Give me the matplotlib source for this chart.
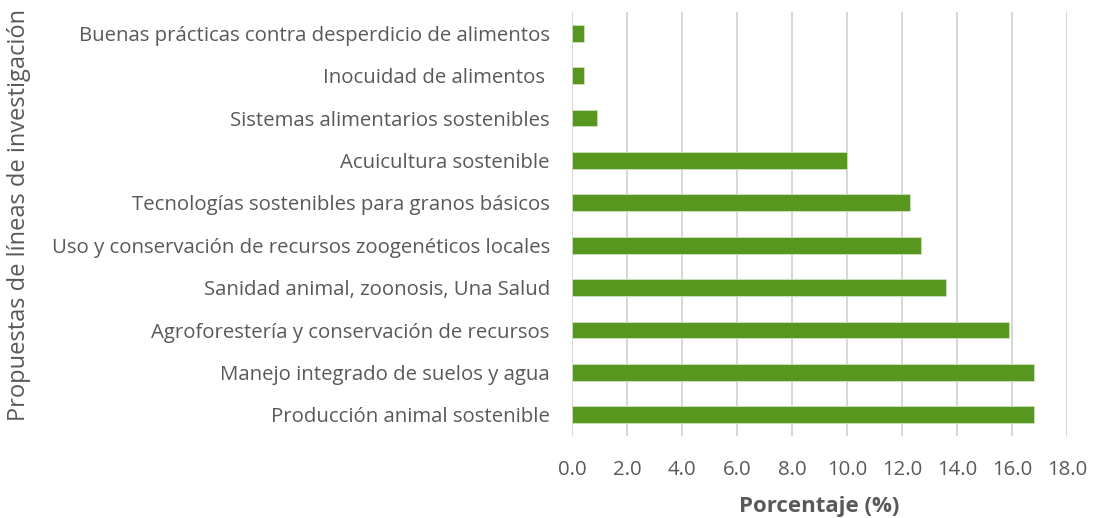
import matplotlib
matplotlib.use("Agg")
import matplotlib.pyplot as plt

# research line proposals, listed bottom to top
lineas = [
    "Producción animal sostenible",
    "Manejo integrado de suelos y agua",
    "Agroforestería y conservación de recursos",
    "Sanidad animal, zoonosis, Una Salud",
    "Uso y conservación de recursos zoogenéticos locales",
    "Tecnologías sostenibles para granos básicos",
    "Acuicultura sostenible",
    "Sistemas alimentarios sostenibles",
    "Inocuidad de alimentos ",
    "Buenas prácticas contra desperdicio de alimentos",
]
porcentaje = [16.8, 16.8, 15.9, 13.6, 12.7, 12.3, 10.0, 0.9, 0.45, 0.45]
x_ticks = [0, 2, 4, 6, 8, 10, 12, 14, 16, 18]

plt.rcParams["font.family"] = ["Open Sans", "DejaVu Sans"]
text_color = "#595959"

fig = plt.figure(figsize=(10.94, 5.18), dpi=100)
ax = fig.add_axes([0.5229, 0.1583, 0.4525, 0.8185])

ax.barh(range(len(lineas)), porcentaje, height=0.4, color="#57961f",
        edgecolor="#cfe3bd", linewidth=0.6, zorder=3)

ax.set_xlim(0, 18)
ax.set_ylim(-0.5, len(lineas) - 0.5)
ax.set_xticks(x_ticks)
ax.set_xticklabels([f"{v:.1f}" for v in x_ticks])
ax.set_yticks(range(len(lineas)))
ax.set_yticklabels(lineas)

ax.grid(axis="x", color="#d4d4d4", linewidth=1.3, zorder=0)
for s in ax.spines.values():
    s.set_visible(False)
ax.tick_params(axis="both", length=0, labelsize=14.7, colors=text_color)
ax.tick_params(axis="y", pad=16)
ax.tick_params(axis="x", pad=17)

ax.set_xlabel("Porcentaje (%)", fontsize=16, fontweight="bold",
              color=text_color, labelpad=12)
fig.text(0.017, 0.585, "Propuestas de líneas de investigación", rotation=90,
         ha="center", va="center", fontsize=17, color=text_color)

fig.savefig("out.png", dpi=100)
